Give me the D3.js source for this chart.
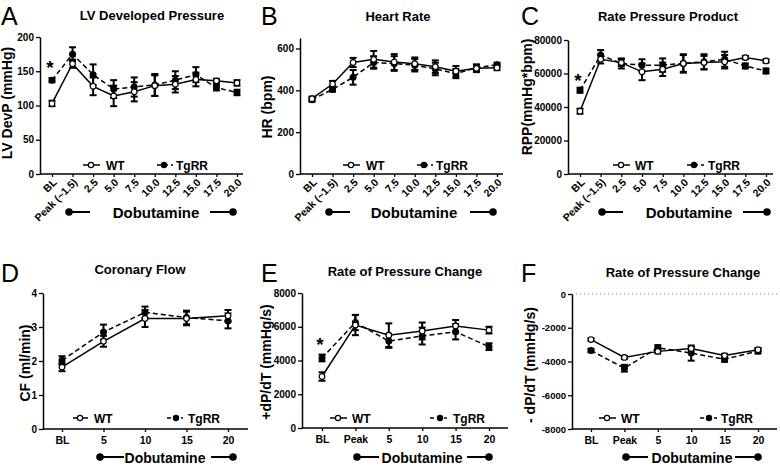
<!DOCTYPE html>
<html><head><meta charset="utf-8">
<script src="https://cdn.jsdelivr.net/npm/d3@7"></script>
<style>
body{margin:0;background:#fff;}
svg{display:block;font-family:Arial,"Liberation Sans",sans-serif;}
</style></head>
<body><svg id="c" width="780" height="466"></svg>
<script>
// ---------- data ----------
const catsLong = ["BL","Peak (~1.5)","2.5","5.0","7.5","10.0","12.5","15.0","17.5","20.0"];
const catsCF = ["BL","5","10","15","20"];
const catsDP = ["BL","Peak","5","10","15","20"];

const lvdpWT     = [103,161,128,114,120,129,131,138,136,133];
const lvdpWTErr  = [4,6,13,15,14,15,12,10,3,4];
const lvdpTg     = [137,175,145,124,127,130,137,145,126,119];
const lvdpTgErr  = [3,10,15,13,14,16,13,11,4,4];

const hrWT       = [360,430,533,548,535,527,513,491,505,508];
const hrWTErr    = [10,15,22,40,38,30,30,25,18,12];
const hrTg       = [355,405,462,533,528,520,502,480,508,522];
const hrTgErr    = [10,12,35,30,35,30,30,22,15,10];

const rppWT      = [37500,68500,66500,61000,62500,66000,66500,67000,69500,67500];
const rppWTErr   = [1500,2500,2000,5000,4000,5000,4000,4000,1000,1000];
const rppTg      = [50000,71000,66000,65000,65000,66000,67000,68500,64500,61500];
const rppTgErr   = [1500,3000,3000,3500,4000,5500,4500,4500,1500,1500];

const cfWT       = [1.82,2.58,3.25,3.25,3.33];
const cfWTErr    = [0.12,0.16,0.25,0.2,0.17];
const cfTg       = [2.02,2.85,3.43,3.28,3.18];
const cfTgErr    = [0.12,0.22,0.17,0.2,0.22];

const dpPosWT    = [3050,6100,5500,5750,6050,5800];
const dpPosWTErr = [250,600,700,500,350,200];
const dpPosTg    = [4150,6250,5150,5450,5700,4820];
const dpPosTgErr = [200,450,400,500,450,200];

const dpNegWT    = [-2700,-3760,-3400,-3230,-3650,-3300];
const dpNegWTErr = [80,80,120,100,100,100];
const dpNegTg    = [-3350,-4400,-3180,-3500,-3870,-3380];
const dpNegTgErr = [100,200,150,450,150,150];

const ticksA = [0,50,100,150,200];
const ticksB = [0,200,400,600];
const ticksC = [0,20000,40000,60000,80000];
const ticksD = [0,1,2,3,4];
const ticksE = [0,2000,4000,6000,8000];
const ticksF = [-8000,-6000,-4000,-2000,0];

// significance markers: [category, value]
const sigA = [["BL",160]];
const sigC = [["BL",58000]];
const sigE = [["BL",5150]];

// ---------- layout ----------
const panels = [
 {letter:"A",lx:1,ly:25,title:"LV Developed Pressure",tx:152,ty:20,ylab:"LV DevP (mmHg)",ylx:12,yly:103,
  cats:catsLong,wt:lvdpWT,wte:lvdpWTErr,tg:lvdpTg,tge:lvdpTgErr,ticks:ticksA,dom:[0,200],
  x0:40,x1:243,yT:37,yB:174,xr:[52,237],rot:true,sig:sigA,
  leg:{y:165,wl:83,wr:100,wc:91,wt:106,tl:157,tr:173,tc:164,tt:176},
  dob:{y:212,l1:69,l2:90,tc:156,r1:210,r2:233}},
 {letter:"B",lx:261,ly:25,title:"Heart Rate",tx:398,ty:21,ylab:"HR (bpm)",ylx:272,yly:107,
  cats:catsLong,wt:hrWT,wte:hrWTErr,tg:hrTg,tge:hrTgErr,ticks:ticksB,dom:[0,650],
  x0:300,x1:503,yT:38,yB:174,xr:[312,497],rot:true,sig:[],
  leg:{y:165,wl:343,wr:360,wc:351,wt:366,tl:417,tr:433,tc:424,tt:436},
  dob:{y:212,l1:329,l2:350,tc:414,r1:470,r2:493}},
 {letter:"C",lx:521,ly:25,title:"Rate Pressure Product",tx:668,ty:21,ylab:"RPP(mmHg*bpm)",ylx:532,yly:97,
  cats:catsLong,wt:rppWT,wte:rppWTErr,tg:rppTg,tge:rppTgErr,ticks:ticksC,dom:[0,80000],
  x0:568,x1:773,yT:40,yB:174,xr:[580,766],rot:true,sig:sigC,
  leg:{y:165,wl:613,wr:630,wc:621,wt:635,tl:687,tr:704,tc:694,tt:708},
  dob:{y:212,l1:602,l2:623,tc:689,r1:743,r2:767}},
 {letter:"D",lx:1,ly:282,title:"Coronary Flow",tx:140,ty:274,ylab:"CF (ml/min)",ylx:30,yly:363,
  cats:catsCF,wt:cfWT,wte:cfWTErr,tg:cfTg,tge:cfTgErr,ticks:ticksD,dom:[0,4],
  x0:43,x1:248,yT:293,yB:429,xr:[62,228],rot:false,sig:[],
  leg:{y:418,wl:73,wr:88,wc:80,wt:94,tl:167,tr:183,tc:176,tt:188},
  dob:{y:457,l1:100,l2:124,tc:165,r1:211,r2:233}},
 {letter:"E",lx:261,ly:282,title:"Rate of Pressure Change",tx:405,ty:276,ylab:"+dP/dT (mmHg/s)",ylx:271,yly:362,
  cats:catsDP,wt:dpPosWT,wte:dpPosWTErr,tg:dpPosTg,tge:dpPosTgErr,ticks:ticksE,dom:[0,8000],
  x0:302,x1:508,yT:293,yB:428,xr:[322,489],rot:false,sig:sigE,
  leg:{y:418,wl:330,wr:347,wc:338,wt:352,tl:430,tr:447,tc:440,tt:453},
  dob:{y:457,l1:357,l2:379,tc:422,r1:467,r2:489}},
 {letter:"F",lx:521,ly:282,title:"Rate of Pressure Change",tx:683,ty:277,ylab:"- dP/dT (mmHg/s)",ylx:535,yly:365,
  cats:catsDP,wt:dpNegWT,wte:dpNegWTErr,tg:dpNegTg,tge:dpNegTgErr,ticks:ticksF,dom:[-8000,0],
  x0:572,x1:777,yT:294,yB:429,xr:[591,758],rot:false,sig:[],zeroLine:true,tickFont:9.5,
  leg:{y:418,wl:599,wr:616,wc:607,wt:621,tl:700,tr:717,tc:709,tt:721},
  dob:{y:457,l1:626,l2:648,tc:692,r1:735,r2:758}}
];

const svg = d3.select("#c");

panels.forEach(p => {
  const g = svg.append("g");
  const x = d3.scalePoint().domain(p.cats).range(p.xr);
  const y = d3.scaleLinear().domain(p.dom).range([p.yB, p.yT]);

  g.append("text").attr("x",p.lx).attr("y",p.ly).attr("font-size",25).text(p.letter);
  g.append("text").attr("x",p.tx).attr("y",p.ty).attr("text-anchor","middle")
    .attr("font-size",13).attr("font-weight","bold").text(p.title);
  g.append("text").attr("transform",`translate(${p.ylx},${p.yly}) rotate(-90)`)
    .attr("text-anchor","middle").attr("font-size",14).attr("font-weight","bold").text(p.ylab);

  if (p.zeroLine) {
    g.append("line").attr("x1",p.x0).attr("x2",p.x1).attr("y1",y(0)).attr("y2",y(0))
      .attr("stroke","#888").attr("stroke-width",1).attr("stroke-dasharray","1,3");
  }

  const ya = g.append("g").attr("transform",`translate(${p.x0},0)`)
    .call(d3.axisLeft(y).tickValues(p.ticks).tickSize(4).tickPadding(2).tickSizeOuter(0).tickFormat(d => String(d)));
  ya.selectAll("text").attr("font-size",p.tickFont||10).attr("font-weight","bold").attr("fill","#000").attr("font-family",null);
  ya.selectAll("line").attr("stroke","#000").attr("stroke-width",1.3);
  ya.select("path.domain").attr("stroke","#000").attr("stroke-width",1.5);

  const xa = g.append("g").attr("transform",`translate(0,${p.yB})`)
    .call(d3.axisBottom(x).tickSize(3).tickPadding(3));
  xa.select("path.domain").remove();
  xa.append("line").attr("x1",p.x0).attr("x2",p.x1).attr("stroke","#000").attr("stroke-width",1.5);
  xa.selectAll(".tick line").attr("stroke","#000").attr("stroke-width",1.3);
  const xt = xa.selectAll(".tick text").attr("fill","#000").attr("font-weight","bold").attr("font-family",null);
  if (p.rot) {
    xt.attr("font-size",10.5).attr("text-anchor","end").attr("dy",null).attr("y",0)
      .attr("transform","translate(5,9) rotate(-45)");
  } else {
    xt.attr("font-size",10.5).attr("dy",null).attr("y",15);
  }

  const idx = d3.range(p.cats.length);
  const line = vals => d3.line().x(i=>x(p.cats[i])).y(i=>y(vals[i]))(idx);
  g.append("path").attr("d",line(p.tg)).attr("fill","none").attr("stroke","#000")
    .attr("stroke-width",1.5).attr("stroke-dasharray","5,3");
  g.append("path").attr("d",line(p.wt)).attr("fill","none").attr("stroke","#000").attr("stroke-width",1.5);

  [[p.wt,p.wte],[p.tg,p.tge]].forEach(([v,e]) => {
    idx.forEach(i => {
      const cx = x(p.cats[i]);
      const a = y(v[i]-e[i]), b = y(v[i]+e[i]);
      g.append("line").attr("x1",cx).attr("x2",cx).attr("y1",a).attr("y2",b).attr("stroke","#000").attr("stroke-width",2);
      [a,b].forEach(yy => g.append("line").attr("x1",cx-3.5).attr("x2",cx+3.5).attr("y1",yy).attr("y2",yy)
        .attr("stroke","#000").attr("stroke-width",2));
    });
  });

  idx.forEach(i => {
    g.append("circle").attr("cx",x(p.cats[i])).attr("cy",y(p.tg[i])).attr("r",3.5).attr("fill","#000");
  });
  idx.forEach(i => {
    g.append("circle").attr("cx",x(p.cats[i])).attr("cy",y(p.wt[i])).attr("r",2.8)
      .attr("fill","#fff").attr("stroke","#000").attr("stroke-width",1.2);
  });

  p.sig.forEach(([c,v]) => {
    g.append("text").attr("x",x(c)-2).attr("y",y(v)+10).attr("text-anchor","middle")
      .attr("font-size",19).attr("font-weight","bold").text("*");
  });

  const L = p.leg;
  g.append("line").attr("x1",L.wl).attr("x2",L.wr).attr("y1",L.y).attr("y2",L.y).attr("stroke","#000").attr("stroke-width",1.5);
  g.append("circle").attr("cx",L.wc).attr("cy",L.y).attr("r",2.6).attr("fill","#fff").attr("stroke","#000").attr("stroke-width",1.2);
  g.append("text").attr("x",L.wt).attr("y",L.y+4.5).attr("font-size",12).attr("font-weight","bold").text("WT");
  g.append("line").attr("x1",L.tl).attr("x2",L.tr).attr("y1",L.y).attr("y2",L.y).attr("stroke","#000")
    .attr("stroke-width",1.5).attr("stroke-dasharray","4,3");
  g.append("circle").attr("cx",L.tc).attr("cy",L.y).attr("r",3.2).attr("fill","#000");
  g.append("text").attr("x",L.tt).attr("y",L.y+4.5).attr("font-size",12).attr("font-weight","bold").text("TgRR");

  const D = p.dob;
  g.append("line").attr("x1",D.l1).attr("x2",D.l2).attr("y1",D.y).attr("y2",D.y).attr("stroke","#000").attr("stroke-width",2);
  g.append("line").attr("x1",D.r1).attr("x2",D.r2).attr("y1",D.y).attr("y2",D.y).attr("stroke","#000").attr("stroke-width",2);
  g.append("circle").attr("cx",D.l1).attr("cy",D.y).attr("r",3.8).attr("fill","#000");
  g.append("circle").attr("cx",D.r2).attr("cy",D.y).attr("r",3.8).attr("fill","#000");
  g.append("text").attr("x",D.tc).attr("y",D.y+5.5).attr("text-anchor","middle")
    .attr("font-size",p.rot?15:14).attr("font-weight","bold").text("Dobutamine");
});
</script></body></html>
